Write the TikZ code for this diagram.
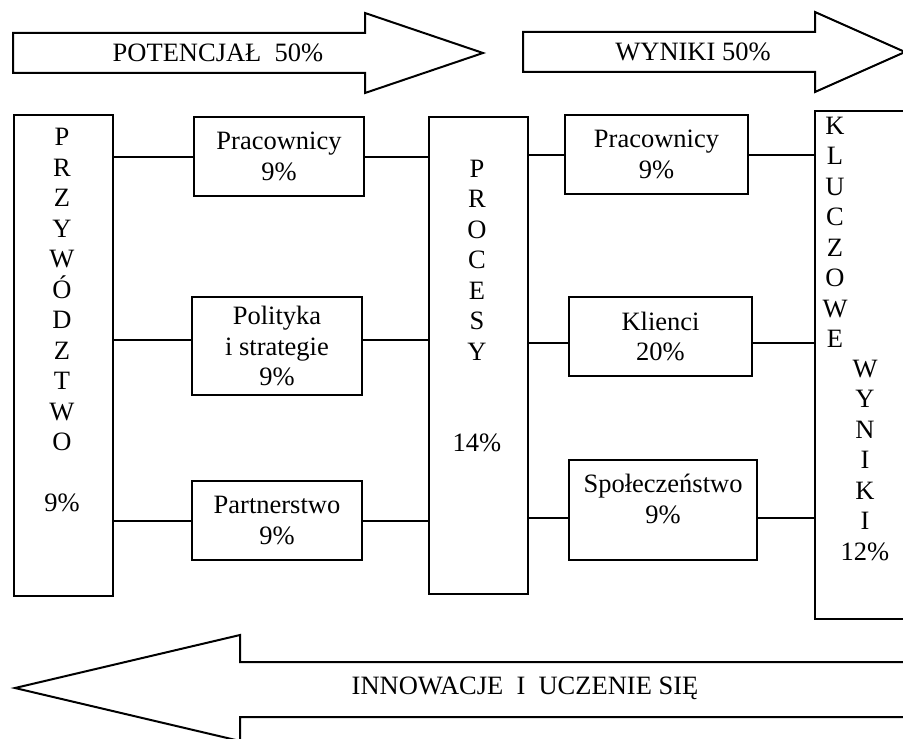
\documentclass[tikz,border=0pt]{standalone}
\usepackage{fontspec}
\setmainfont{Liberation Serif}
\tikzset{
	box/.style={draw, line width=1pt, align=center, inner sep=0pt, anchor=north west},
	letters/.style={align=center, inner sep=0pt, anchor=north},
	link/.style={line width=1pt},
	bigarrow/.style={draw, line width=1pt, line join=miter}
}

\begin{document}
\begin{tikzpicture}[x=0.5pt, y=-0.5pt, font=\fontsize{13.25}{15.25}\selectfont]
        \useasboundingbox (0,0) rectangle (903,738);
        \clip (0,0) rectangle (903,738);
        \draw[bigarrow] (13,33) -- (365,33) -- (365,13) -- (483,53) -- (365,93) -- (365,73) -- (13,73) -- cycle;
        \node (potencjal) at (218,53) {POTENCJAŁ\ \ 50\%};
        \draw[bigarrow] (523,32) -- (815,32) -- (815,12) -- (905,52) -- (815,92) -- (815,72) -- (523,72) -- cycle;
        \node (wyniki) at (693,52) {WYNIKI 50\%};
        \draw[bigarrow] (930,662) -- (240,662) -- (240,635) -- (15,688) -- (240,741) -- (240,717) -- (930,717);
        \node (innowacje) at (525,688) {INNOWACJE\ \ I\ \ UCZENIE SIĘ};
        \node[box, minimum width=49.5pt, minimum height=240.5pt] (przyw) at (13,114) {};
        \node[box, minimum width=49.5pt, minimum height=238.5pt] (procesy) at (428,116) {};
        \node[box, minimum width=73pt, minimum height=254pt] (klucz) at (814,110) {};
        \node[letters] (przyw_txt) at (62,128) {P\\R\\Z\\Y\\W\\Ó\\D\\Z\\T\\W\\O\\[\baselineskip]9\%};
        \node[letters] (procesy_txt) at (477,159.5) {P\\R\\O\\C\\E\\S\\Y\\[2\baselineskip]14\%};
        \node[letters] (klucz_txt) at (835,116.5) {K\\L\\U\\C\\Z\\O\\W\\E};
        \node[letters] (wyniki_txt) at (865,359.5) {W\\Y\\N\\I\\K\\I\\12\%};
        \node[box, minimum width=85pt, minimum height=39.5pt] (prac_L) at (193,116) {Pracownicy\\9\%};
        \node[box, minimum width=85pt, minimum height=49pt] (polityka) at (191,296) {Polityka\\i strategie\\9\%};
        \node[box, minimum width=85pt, minimum height=39.5pt] (partner) at (191,480) {Partnerstwo\\9\%};
        \node[box, minimum width=91.5pt, minimum height=39.5pt] (prac_R) at (564,114) {Pracownicy\\9\%};
        \node[box, minimum width=91.5pt, minimum height=39.5pt] (klienci) at (568,296) {Klienci\\20\%};
        \node[box, minimum width=94pt, minimum height=50pt] (spolecz) at (568,459) {Społeczeństwo\\9\%\\[-4pt]~};
        \draw[link] (prac_L.west) -- (prac_L.west -| przyw.east);
        \draw[link] ([yshift=3pt]polityka.west) -- ([yshift=3pt]polityka.west -| przyw.east);
        \draw[link] (partner.west) -- (partner.west -| przyw.east);
        \draw[link] (prac_L.east) -- (prac_L.east -| procesy.west);
        \draw[link] ([yshift=3pt]polityka.east) -- ([yshift=3pt]polityka.east -| procesy.west);
        \draw[link] (partner.east) -- (partner.east -| procesy.west);
        \draw[link] (prac_R.west) -- (prac_R.west -| procesy.east);
        \draw[link] ([yshift=-3pt]klienci.west) -- ([yshift=-3pt]klienci.west -| procesy.east);
        \draw[link] ([yshift=-4pt]spolecz.west) -- ([yshift=-4pt]spolecz.west -| procesy.east);
        \draw[link] (prac_R.east) -- (prac_R.east -| klucz.west);
        \draw[link] ([yshift=-3pt]klienci.east) -- ([yshift=-3pt]klienci.east -| klucz.west);
        \draw[link] ([yshift=-4pt]spolecz.east) -- ([yshift=-4pt]spolecz.east -| klucz.west);
    \end{tikzpicture}
\end{document}
